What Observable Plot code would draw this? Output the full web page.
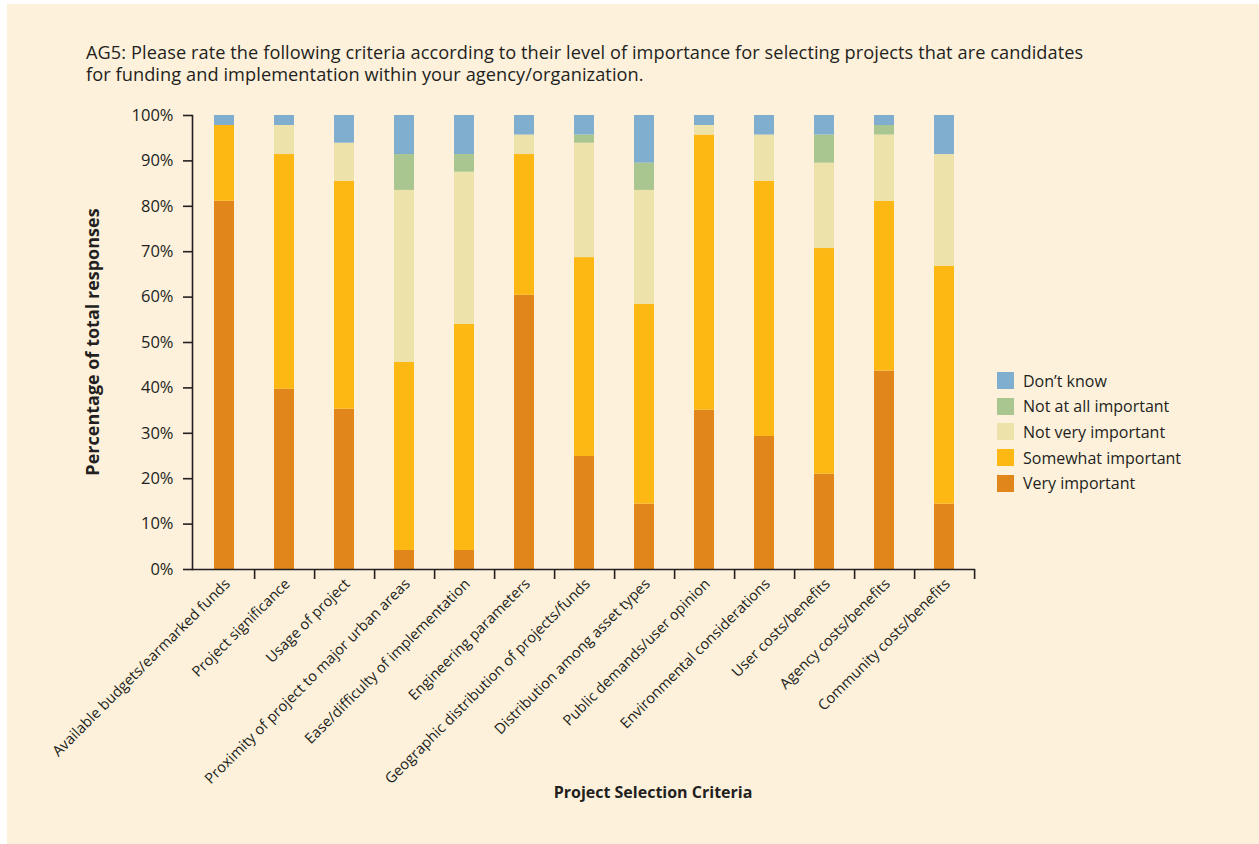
<!DOCTYPE html>
<html>
<head>
<meta charset="utf-8">
<script src="https://cdn.jsdelivr.net/npm/d3@7"></script>
<script src="https://cdn.jsdelivr.net/npm/@observablehq/plot@0.6"></script>
<style>
  html, body { margin: 0; padding: 0; background: #ffffff; overflow: hidden; }
  #panel { position: absolute; left: 7px; top: 4px; width: 1252px; height: 840px; background: #fdf1dc; font-family: "Open Sans", Lato, sans-serif; color: #231f20; }
  #panel svg { position: absolute; left: 0; top: 0; }
  #title { position: absolute; left: 79px; top: 37px; font-size: 18.2px; letter-spacing: 0.075px; line-height: 22px; white-space: nowrap; }
  #ylabel { position: absolute; left: 85px; top: 338px; transform: translate(-50%, -50%) rotate(-90deg); font-weight: bold; font-size: 18px; white-space: nowrap; }
  #xlabel { position: absolute; left: 646px; top: 788px; transform: translate(-50%, -50%); font-weight: bold; font-size: 16px; white-space: nowrap; }
  #legend { position: absolute; left: 990px; top: 364px; }
  .row { display: flex; align-items: center; height: 25.6px; }
  .sw { width: 17px; height: 17px; margin-right: 9px; }
  .lt { font-size: 16px; white-space: nowrap; }
</style>
</head>
<body>
<div id="panel">
  <div id="title">AG5: Please rate the following criteria according to their level of importance for selecting projects that are candidates<br>for funding and implementation within your agency/organization.</div>
  <div id="ylabel">Percentage of total responses</div>
  <div id="xlabel">Project Selection Criteria</div>
  <div id="legend"></div>
</div>
<script>
const categories = [
  "Available budgets/earmarked funds",
  "Project significance",
  "Usage of project",
  "Proximity of project to major urban areas",
  "Ease/difficulty of implementation",
  "Engineering parameters",
  "Geographic distribution of projects/funds",
  "Distribution among asset types",
  "Public demands/user opinion",
  "Environmental considerations",
  "User costs/benefits",
  "Agency costs/benefits",
  "Community costs/benefits"
];
const seriesNames = ["Very important", "Somewhat important", "Not very important", "Not at all important", "Don\u2019t know"];
const veryImportant     = [81.1, 39.7, 35.3,  4.2,  4.2, 60.4, 24.9, 14.4, 35.1, 29.3, 21.0, 43.7, 14.4];
const somewhatImportant = [16.7, 51.7, 50.2, 41.4, 49.8, 31.0, 43.8, 44.0, 60.6, 56.2, 49.7, 37.4, 52.4];
const notVeryImportant  = [ 0.0,  6.4,  8.4, 37.9, 33.5,  4.3, 25.2, 25.1,  2.1, 10.2, 18.8, 14.6, 24.6];
const notAtAllImportant = [ 0.0,  0.0,  0.0,  7.9,  3.9,  0.0,  1.8,  6.0,  0.0,  0.0,  6.2,  2.1,  0.0];
const dontKnow          = [ 2.2,  2.2,  6.1,  8.6,  8.6,  4.3,  4.3, 10.5,  2.2,  4.3,  4.3,  2.2,  8.6];
const seriesColors = ["#e1861b", "#fdb813", "#ede2a9", "#a9c690", "#80aecf"];
const yTicks = [0, 10, 20, 30, 40, 50, 60, 70, 80, 90, 100];

const seriesValues = [veryImportant, somewhatImportant, notVeryImportant, notAtAllImportant, dontKnow];
const data = [];
seriesNames.forEach((s, si) => {
  categories.forEach((c, ci) => data.push({category: c, series: s, value: seriesValues[si][ci]}));
});

const W = 1252, H = 820;
const mL = 185, mR = 284, mT = 111, mB = 255;
const step = (W - mL - mR) / categories.length;

const chart = Plot.plot({
  width: W,
  height: H,
  marginLeft: mL,
  marginRight: mR,
  marginTop: mT,
  marginBottom: mB,
  style: { background: "transparent", fontFamily: "'Open Sans', Lato, sans-serif", color: "#231f20" },
  x: { domain: categories, paddingInner: 0.668, paddingOuter: 0.334, label: null },
  y: { domain: [0, 100], label: null },
  color: { domain: seriesNames, range: seriesColors },
  marks: [
    Plot.barY(data, { x: "category", y: "value", fill: "series", order: null }),
    Plot.axisY({ ticks: yTicks, tickFormat: d => d + "%", tickSize: 9, tickPadding: 10, fontSize: 16.5, stroke: "#231f20", strokeWidth: 1.6, label: null }),
    Plot.frame({ anchor: "left", stroke: "#231f20", strokeWidth: 1.6 }),
    Plot.ruleY([0], { stroke: "#231f20", strokeWidth: 1.6 }),
    Plot.axisX({ tickSize: 10, fill: "none", dx: step / 2, stroke: "#231f20", strokeWidth: 1.6, label: null }),
    Plot.axisX({ tickSize: 0, tickRotate: -45, tickPadding: 12, dx: 3, fontSize: 14.7, label: null })
  ]
});
document.getElementById("panel").insertBefore(chart, document.getElementById("title"));

const legend = document.getElementById("legend");
[...seriesNames].reverse().forEach((s, i) => {
  const color = seriesColors[seriesNames.length - 1 - i];
  const row = document.createElement("div");
  row.className = "row";
  row.innerHTML = `<div class="sw" style="background:${color}"></div><div class="lt"></div>`;
  row.querySelector(".lt").textContent = s;
  legend.appendChild(row);
});
</script>
</body>
</html>
